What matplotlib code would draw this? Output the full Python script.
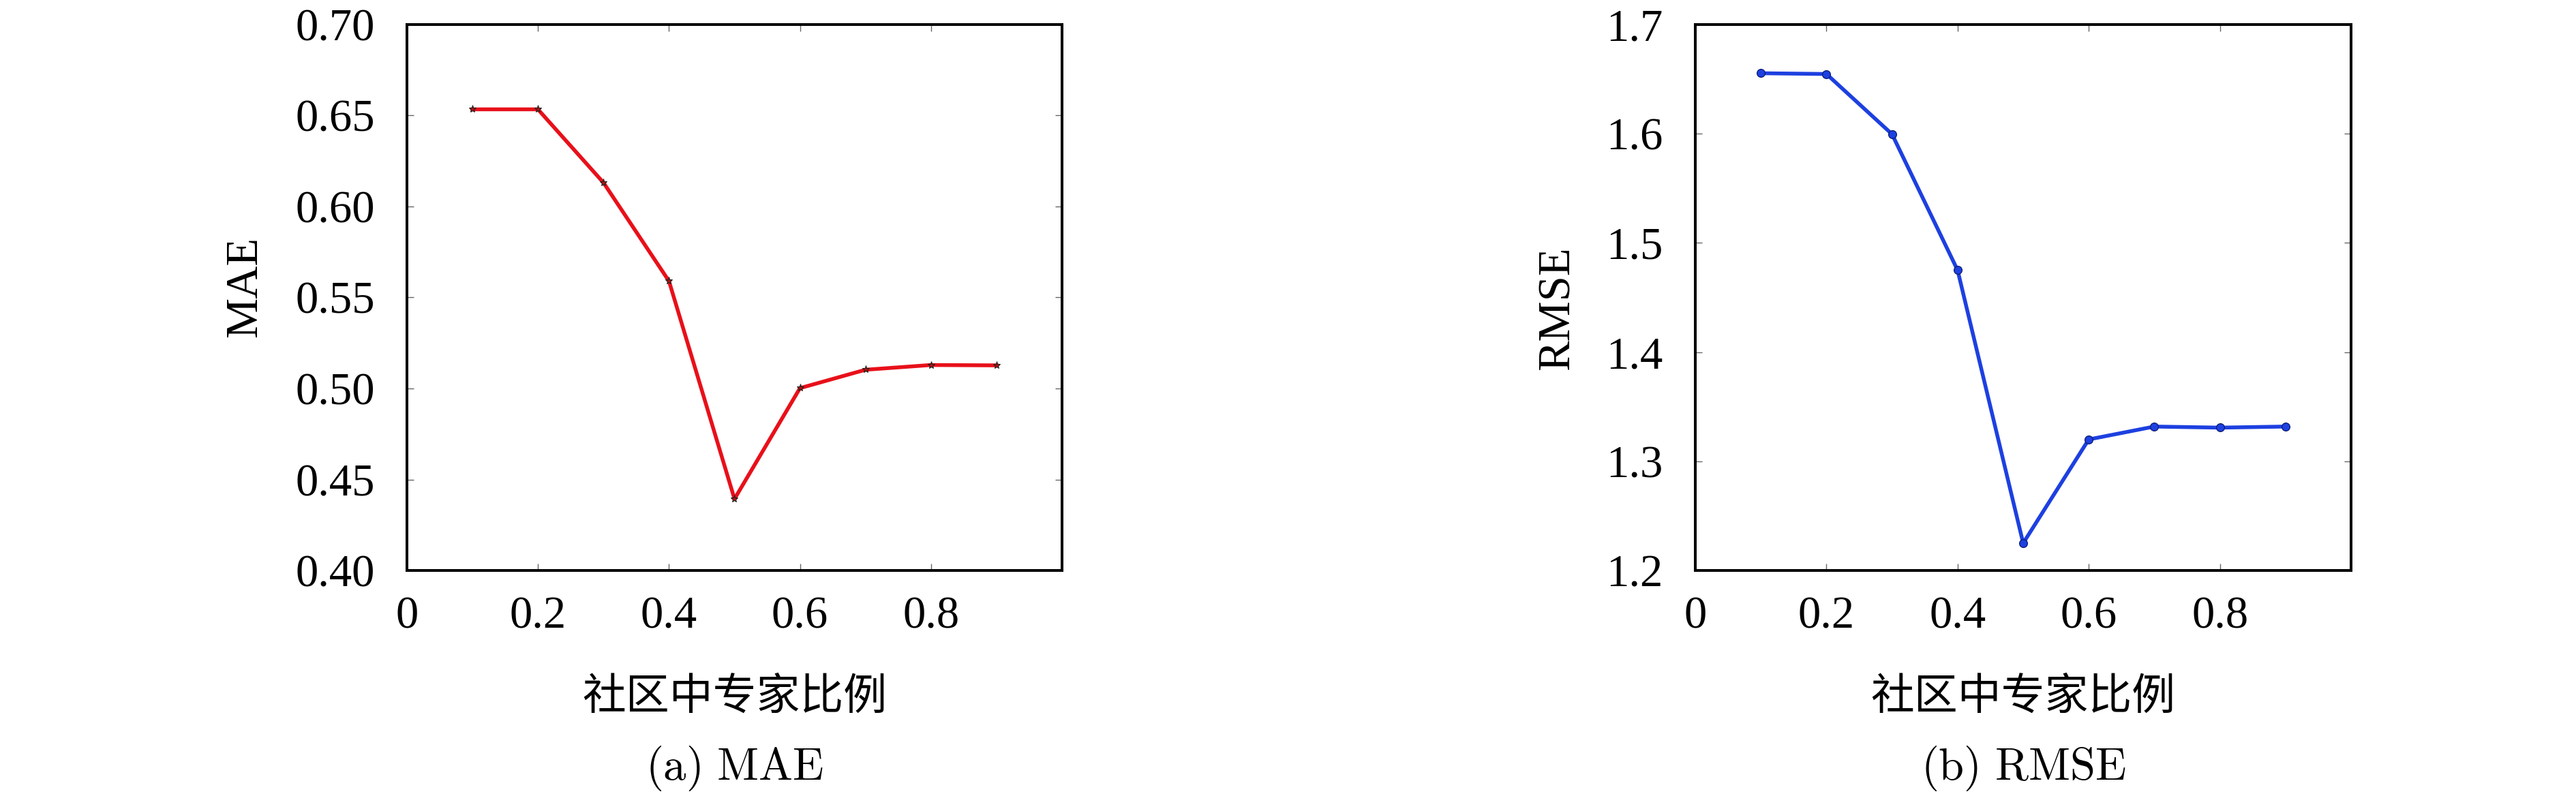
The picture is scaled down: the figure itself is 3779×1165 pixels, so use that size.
import matplotlib
matplotlib.use("Agg")
import matplotlib.pyplot as plt

# proportion of experts in the community
ratios = [0.1, 0.2, 0.3, 0.4, 0.5, 0.6, 0.7, 0.8, 0.9]
mae = [0.6534, 0.6534, 0.6131, 0.5590, 0.4393, 0.5002, 0.5103, 0.5129, 0.5127]
rmse = [1.6554, 1.6547, 1.5996, 1.4750, 1.2250, 1.3200, 1.3318, 1.3308, 1.3318]

x_ticks = [0, 0.2, 0.4, 0.6, 0.8]
x_ticklabels = ["0", "0.2", "0.4", "0.6", "0.8"]
mae_ticks = [0.40, 0.45, 0.50, 0.55, 0.60, 0.65, 0.70]
rmse_ticks = [1.2, 1.3, 1.4, 1.5, 1.6, 1.7]

xlabel = "社区中专家比例"

plt.rcParams['font.family'] = ['Liberation Serif', 'DejaVu Serif']
plt.rcParams['mathtext.fontset'] = 'cm'

fig = plt.figure(figsize=(37.8, 11.65), dpi=100)
ax1 = fig.add_axes([597 / 3780, 1 - 837 / 1165, 961 / 3780, 801 / 1165])
ax2 = fig.add_axes([2487 / 3780, 1 - 837 / 1165, 962 / 3780, 801 / 1165])


def style_axes(ax, yticks, yfmt, ylabel, ylabel_x, ylabel_y, caption):
    ax.set_xlim(0, 1)
    ax.set_ylim(yticks[0], yticks[-1])
    ax.set_xticks(x_ticks)
    ax.set_xticklabels(x_ticklabels)
    ax.set_yticks(yticks)
    ax.set_yticklabels([yfmt.format(v) for v in yticks])
    for s in ax.spines.values():
        s.set_linewidth(2.9)
    ax.tick_params(axis='both', direction='in', length=7, width=1.0,
                   color='#666666', top=True, right=True, labelsize=48)
    ax.tick_params(axis='x', pad=27)
    ax.tick_params(axis='y', pad=34)
    ax.set_ylabel(ylabel, fontsize=48, va='center')
    ax.yaxis.set_label_coords(ylabel_x, ylabel_y)
    ax.set_xlabel(xlabel, fontsize=46, family=['Noto Sans CJK SC', 'DejaVu Sans'],
                  va='center')
    ax.xaxis.set_label_coords(0.5, -0.231)
    ax.text(0.5, -0.363, caption, transform=ax.transAxes, fontsize=48,
            ha='center', va='center')


ax1.plot(ratios, mae, color='#e8101a', linewidth=4.0, marker='*',
         markersize=8, markerfacecolor='#b01010', markeredgecolor='#222222',
         markeredgewidth=0.8)
ax2.plot(ratios, rmse, color='#1d40e0', linewidth=4.0, marker='o',
         markersize=8.5, markerfacecolor='#1d40e0', markeredgecolor='#0a1a70',
         markeredgewidth=0.9)

style_axes(ax1, mae_ticks, "{:.2f}", "MAE", -0.247, 0.52, r"$\mathrm{(a)\ MAE}$")
style_axes(ax2, rmse_ticks, "{:.1f}", "RMSE", -0.210, 0.48, r"$\mathrm{(b)\ RMSE}$")

fig.savefig("out.png", dpi=100)
